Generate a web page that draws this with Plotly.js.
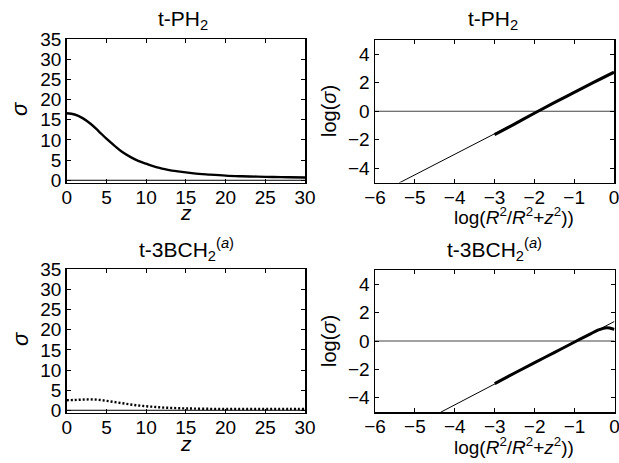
<!DOCTYPE html>
<html>
<head>
<meta charset="utf-8">
<script src="https://cdn.plot.ly/plotly-3.0.1.min.js"></script>
<style>html,body{margin:0;padding:0;background:#fff}#plot{width:619px;height:463px}</style>
</head>
<body>
<div id="plot"></div>
<script>
// ---- data ----
const zPH2 = [0,1,2,3,4,5,6,7,8,9,10,12,14,16,18,20,22,24,26,28,30];
const sigmaPH2 = [16.6,16.3,15.4,14.0,12.2,10.3,8.6,7.0,5.8,4.8,4.1,2.9,2.2,1.7,1.4,1.15,1.0,0.9,0.8,0.75,0.7];

const zBCH2 = [0,1,2,3,4,5,6,7,8,9,10,11,12,13,14,15,16,18,20,22,24,26,28,30];
const sigmaBCH2 = [2.5,2.55,2.65,2.7,2.6,2.35,2.05,1.75,1.45,1.2,1.0,0.85,0.7,0.6,0.52,0.46,0.42,0.36,0.33,0.31,0.3,0.3,0.3,0.3];

const zeroLineZ = [0,30];
const zeroLineSigma = [0,0];

const logXPH2 = [-3,-2.5,-2,-1.5,-1,-0.5,0];
const logSigmaPH2 = [-1.64,-0.90,-0.14,0.60,1.32,2.04,2.74];
const fitXPH2 = [-5.4,0];
const fitYPH2 = [-5.04,2.74];

const logXBCH2 = [-3,-2.5,-2,-1.5,-1,-0.8,-0.6,-0.4,-0.2,-0.1,0];
const logSigmaBCH2 = [-3.0,-2.25,-1.52,-0.8,-0.07,0.22,0.5,0.78,0.94,0.9,0.82];
const fitXBCH2 = [-4.35,0];
const fitYBCH2 = [-5.01,1.38];

const logZeroX = [-6,0];
const logZeroY = [0,0];

const xTicksZ = [0,5,10,15,20,25,30];
const yTicksSigma = [0,5,10,15,20,25,30,35];
const xTicksLog = [-6,-5,-4,-3,-2,-1,0];
const yTicksLog = [-4,-2,0,2,4];

const titles = ['t-PH<sub>2</sub>', 't-PH<sub>2</sub>', 't-3BCH<sub>2</sub><sup>(<i>a</i>)</sup>', 't-3BCH<sub>2</sub><sup>(<i>a</i>)</sup>'];

// ---- layout helpers ----
const W = 619, H = 463;
const px = v => v / W;
const py = v => 1 - v / H;
const FONT = 'Liberation Sans, Arial, Helvetica, sans-serif';

function axisBase(extra) {
  return Object.assign({
    showline: true, mirror: 'ticks', linecolor: '#000', linewidth: 1.5,
    ticks: 'inside', ticklen: 4, tickwidth: 1, tickcolor: '#000',
    showgrid: false, zeroline: false, fixedrange: true,
    ticklabeloverflow: 'allow',
    tickfont: {family: FONT, size: 19, color: '#000'}
  }, extra);
}

const traces = [
  // top-left
  {x: zeroLineZ, y: zeroLineSigma, xaxis: 'x', yaxis: 'y', mode: 'lines', line: {color: '#000', width: 1}},
  {x: zPH2, y: sigmaPH2, xaxis: 'x', yaxis: 'y', mode: 'lines', line: {color: '#000', width: 2.4, shape: 'spline'}},
  // top-right
  {x: logZeroX, y: logZeroY, xaxis: 'x2', yaxis: 'y2', mode: 'lines', line: {color: '#444', width: 1.2}},
  {x: fitXPH2, y: fitYPH2, xaxis: 'x2', yaxis: 'y2', mode: 'lines', line: {color: '#000', width: 1}},
  {x: logXPH2, y: logSigmaPH2, xaxis: 'x2', yaxis: 'y2', mode: 'lines', line: {color: '#000', width: 3, shape: 'spline'}},
  // bottom-left
  {x: zeroLineZ, y: zeroLineSigma, xaxis: 'x3', yaxis: 'y3', mode: 'lines', line: {color: '#000', width: 1}},
  {x: zBCH2, y: sigmaBCH2, xaxis: 'x3', yaxis: 'y3', mode: 'lines', line: {color: '#000', width: 2.4, dash: '2px,2px', shape: 'spline'}},
  // bottom-right
  {x: logZeroX, y: logZeroY, xaxis: 'x4', yaxis: 'y4', mode: 'lines', line: {color: '#444', width: 1.2}},
  {x: fitXBCH2, y: fitYBCH2, xaxis: 'x4', yaxis: 'y4', mode: 'lines', line: {color: '#000', width: 1}},
  {x: logXBCH2, y: logSigmaBCH2, xaxis: 'x4', yaxis: 'y4', mode: 'lines', line: {color: '#000', width: 3, shape: 'spline'}}
];

const dTL = {x: [px(66.7), px(305)], y: [py(182.7), py(39)]};
const dTR = {x: [px(375), px(614)], y: [py(182.5), py(40)]};
const dBL = {x: [px(66.7), px(305)], y: [py(412.7), py(269.3)]};
const dBR = {x: [px(375), px(614.5)], y: [py(412), py(270)]};

const ann = [];
function addText(text, x, y, size, angle) {
  ann.push({text: text, x: px(x), y: py(y), xref: 'paper', yref: 'paper', showarrow: false,
    textangle: angle || 0,
    xanchor: 'center', yanchor: 'middle', font: {family: FONT, size: size, color: '#000'}});
}
addText(titles[0], 183, 20, 21);
addText(titles[1], 493, 20, 21);
addText(titles[2], 186, 250, 21);
addText(titles[3], 494, 250, 21);
addText('<i>z</i>', 186, 213, 21);
addText('<i>z</i>', 186, 443, 21);
addText('log(<i>R</i><sup>2</sup>/<i>R</i><sup>2</sup>+<i>z</i><sup>2</sup>))', 514, 216, 19);
addText('log(<i>R</i><sup>2</sup>/<i>R</i><sup>2</sup>+<i>z</i><sup>2</sup>))', 514, 446, 19);
addText('<i>σ</i>', 20, 109, 22, -90);
addText('<i>σ</i>', 20, 339, 22, -90);
addText('log(<i>σ</i>)', 329, 111, 20, -90);
addText('log(<i>σ</i>)', 329, 341, 20, -90);

const layout = {
  width: W, height: H,
  margin: {l: 0, r: 0, t: 0, b: 0},
  paper_bgcolor: '#fff', plot_bgcolor: '#fff',
  showlegend: false,
  font: {family: FONT, color: '#000'},
  xaxis: axisBase({domain: dTL.x, anchor: 'y', range: [0, 30], tickvals: xTicksZ, ticklabelstandoff: -3}),
  yaxis: axisBase({domain: dTL.y, anchor: 'x', range: [-0.6, 35], tickvals: yTicksSigma, ticklabelstandoff: 0}),
  xaxis2: axisBase({domain: dTR.x, anchor: 'y2', range: [-6, 0], tickvals: xTicksLog, ticklabelstandoff: -3}),
  yaxis2: axisBase({domain: dTR.y, anchor: 'x2', range: [-5, 5], tickvals: yTicksLog, ticklabelstandoff: 0}),
  xaxis3: axisBase({domain: dBL.x, anchor: 'y3', range: [0, 30], tickvals: xTicksZ, ticklabelstandoff: -3}),
  yaxis3: axisBase({domain: dBL.y, anchor: 'x3', range: [-0.6, 35], tickvals: yTicksSigma, ticklabelstandoff: 0}),
  xaxis4: axisBase({domain: dBR.x, anchor: 'y4', range: [-6, 0], tickvals: xTicksLog, ticklabelstandoff: -3}),
  yaxis4: axisBase({domain: dBR.y, anchor: 'x4', range: [-5, 5], tickvals: yTicksLog, ticklabelstandoff: 0}),
  annotations: ann
};

Plotly.newPlot('plot', traces, layout, {staticPlot: true, displayModeBar: false});
</script>
</body>
</html>
